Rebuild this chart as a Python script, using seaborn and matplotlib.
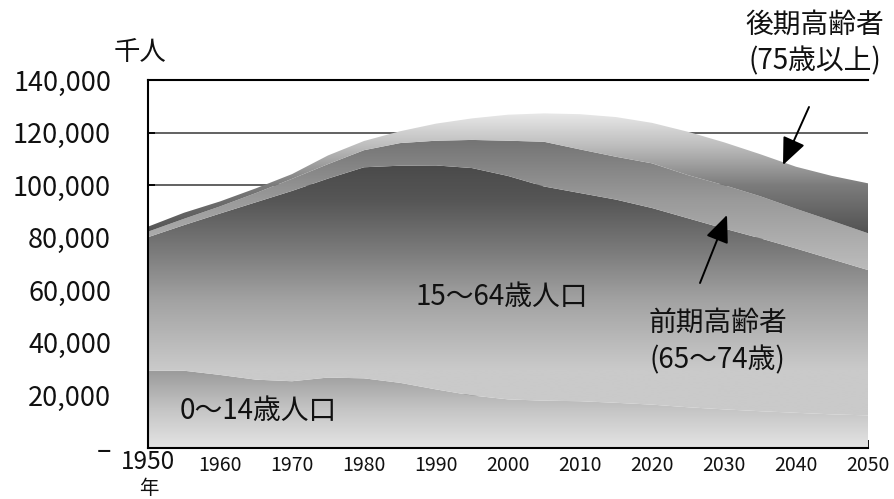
import numpy as np
import pandas as pd
import matplotlib
matplotlib.use("Agg")
import matplotlib.pyplot as plt
from matplotlib.colors import LinearSegmentedColormap
from matplotlib.patches import FancyArrowPatch
from matplotlib.ticker import FixedLocator, FuncFormatter
import seaborn as sns

# Population by age group (thousands)
years = [1950, 1955, 1960, 1965, 1970, 1975, 1980, 1985, 1990, 1995, 2000,
         2005, 2010, 2015, 2020, 2025, 2030, 2035, 2040, 2045, 2050]
age_0_14 = [29400, 29400, 27800, 26000, 25400, 26800, 26500, 24800, 22300, 20000, 18500,
            18000, 17800, 17200, 16500, 15500, 14700, 14000, 13400, 12800, 12400]
age_15_64 = [50800, 55400, 61400, 67500, 72400, 75700, 80300, 82600, 85200, 86500, 85000,
             81500, 79200, 77300, 74800, 71900, 68800, 65800, 62500, 59000, 55300]
age_65_74 = [2100, 2400, 2700, 3500, 4600, 5500, 6500, 8600, 9400, 10700, 13400,
             17000, 16600, 16300, 17000, 16400, 16500, 16000, 15100, 14600, 14000]
age_75_plus = [1900, 2300, 1900, 1800, 1800, 3300, 3500, 4500, 6500, 8200, 9900,
               10800, 13400, 15100, 15400, 16500, 16300, 16000, 16000, 17100, 19000]

y_ticks = [0, 20000, 40000, 60000, 80000, 100000, 120000, 140000]
x_ticks = [1950, 1960, 1970, 1980, 1990, 2000, 2010, 2020, 2030, 2040, 2050]

df = pd.DataFrame({"year": years, "0-14": age_0_14, "15-64": age_15_64,
                   "65-74": age_65_74, "75+": age_75_plus}).set_index("year")
cum = df.cumsum(axis=1)

sns.set_theme(style="white")
plt.rcParams["font.family"] = ["Noto Sans CJK JP", "DejaVu Sans"]

W, H = 895, 499
fig = plt.figure(figsize=(W / 100, H / 100), dpi=100)
fig.patch.set_facecolor("white")
L, R, T, B = 148, 868, 80, 448
ax = fig.add_axes([L / W, 1 - B / H, (R - L) / W, (B - T) / H])
ax.set_facecolor("white")

YMAX = 140000


def gradient_band(lower, upper, stops):
    """Fill between two curves with a vertical gray ramp given as (value, colour) stops."""
    poly = ax.fill_between(years, lower, upper, facecolor="none",
                           edgecolor="none", linewidth=0)
    path = poly.get_paths()[0]
    stops = sorted(stops)
    lo, hi = stops[0][0], stops[-1][0]
    cmap = LinearSegmentedColormap.from_list(
        "band", [((v - lo) / (hi - lo), c) for v, c in stops])
    yv = np.linspace(0, YMAX, 900)
    frac = np.clip((yv - lo) / (hi - lo), 0, 1).reshape(-1, 1)
    im = ax.imshow(frac, cmap=cmap, vmin=0, vmax=1,
                   extent=[years[0], years[-1], 0, YMAX], origin="lower",
                   aspect="auto", interpolation="bilinear", zorder=2)
    im.set_clip_path(path, transform=ax.transData)


zero = np.zeros(len(years))
gradient_band(zero, cum["0-14"].values,
              [(0, "#e4e4e4"), (15000, "#c4c4c4"), (29000, "#9c9c9c")])
gradient_band(cum["0-14"].values, cum["15-64"].values,
              [(29700, "#cacaca"), (56300, "#a2a2a2"), (75300, "#7a7a7a"),
               (94300, "#565656"), (108000, "#4a4a4a")])
gradient_band(cum["15-64"].values, cum["65-74"].values,
              [(67700, "#bcbcbc"), (95000, "#999999"), (127000, "#646464")])
gradient_band(cum["65-74"].values, cum["75+"].values,
              [(81000, "#505050"), (100000, "#7c7c7c"), (115000, "#bdbdbd"),
               (128600, "#ececec")])

ax.set_xlim(1950, 2050)
ax.set_ylim(0, YMAX)

# horizontal grid lines sit behind the areas
ax.yaxis.set_major_locator(FixedLocator(y_ticks))
ax.xaxis.set_major_locator(FixedLocator(x_ticks))
ax.grid(axis="y", color="#555555", linewidth=1.3, zorder=0)
ax.grid(axis="x", visible=False)
ax.set_axisbelow(True)

sns.despine(ax=ax, top=False, right=True)
for side in ("left", "bottom", "top"):
    ax.spines[side].set_color("black")
    ax.spines[side].set_linewidth(1.5)
    ax.spines[side].set_zorder(5)

ax.yaxis.set_major_formatter(FuncFormatter(lambda v, p: "–" if v == 0 else f"{v:,.0f}"))
# the first year is set apart in a larger face below
ax.xaxis.set_major_formatter(FuncFormatter(lambda v, p: "" if v == x_ticks[0] else f"{v:.0f}"))
ax.tick_params(axis="y", direction="in", length=5, width=1.3, color="black",
               labelsize=19.5, pad=26.5, labelcolor="#111111", left=True)
ax.tick_params(axis="x", direction="in", length=6, width=1.3, color="black",
               labelsize=14, pad=5, labelcolor="#111111", bottom=True)

fx = lambda px: px / W
fy = lambda py: 1 - py / H

fig.text(fx(148), fy(462), f"{x_ticks[0]}", fontsize=17.5, ha="center", va="center", color="#111111")
fig.text(fx(140), fy(52), "千人", fontsize=19, ha="center", va="center", color="#111111")
fig.text(fx(149), fy(489), "年", fontsize=14, ha="center", va="center", color="#111111")

fig.text(fx(815), fy(25), "後期高齢者", fontsize=20, ha="center", va="center", color="#111111")
fig.text(fx(815), fy(61), "(75歳以上)", fontsize=20, ha="center", va="center", color="#111111")
fig.text(fx(718), fy(323), "前期高齢者", fontsize=20, ha="center", va="center", color="#111111", zorder=6)
fig.text(fx(717), fy(360), "(65〜74歳)", fontsize=20, ha="center", va="center", color="#111111", zorder=6)
fig.text(fx(502), fy(297), "15〜64歳人口", fontsize=20, ha="center", va="center", color="#111111", zorder=6)
fig.text(fx(258), fy(411), "0〜14歳人口", fontsize=20, ha="center", va="center", color="#111111", zorder=6)

arrow = dict(arrowstyle="-|>,head_length=0.7,head_width=0.3", color="black", lw=1.4,
             mutation_scale=24, shrinkA=0, shrinkB=0)
fig.add_artist(FancyArrowPatch((fx(809), fy(107)), (fx(783), fy(165)),
                               transform=fig.transFigure, **arrow))
fig.add_artist(FancyArrowPatch((fx(700), fy(283)), (fx(727), fy(215)),
                               transform=fig.transFigure, **arrow))

fig.savefig("out.png", dpi=100, facecolor="white")
